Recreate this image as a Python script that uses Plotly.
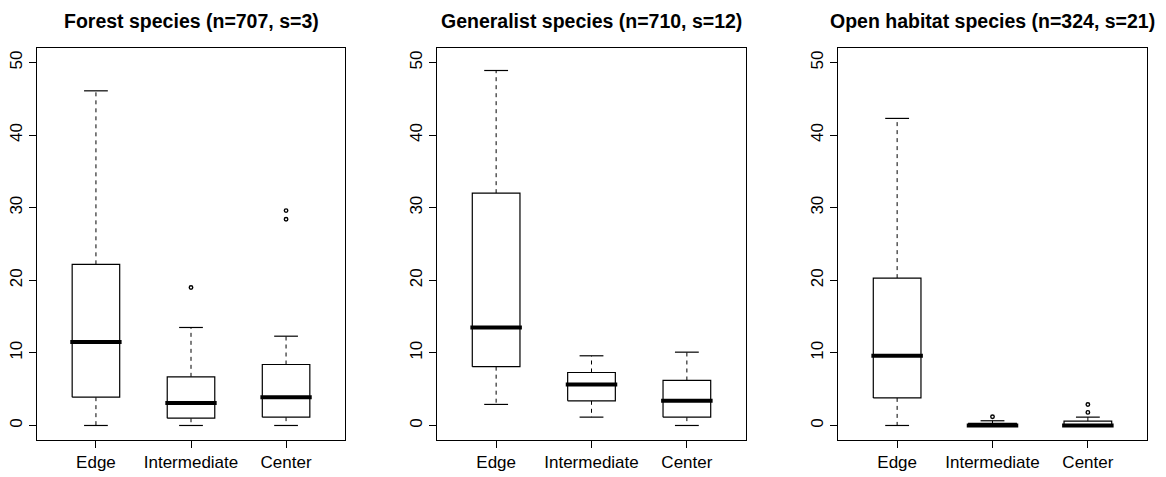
import plotly.graph_objects as go

# ---------------- data ----------------
categories = ["Edge", "Intermediate", "Center"]
panel_titles = [
    "Forest species (n=707, s=3)",
    "Generalist species (n=710, s=12)",
    "Open habitat species (n=324, s=21)",
]
y_ticks = [0, 10, 20, 30, 40, 50]

# per panel, per category: lower whisker, Q1, median, Q3, upper whisker
forest_low = [0.0, 0.0, 0.0]
forest_q1 = [3.9, 1.0, 1.15]
forest_med = [11.5, 3.1, 3.9]
forest_q3 = [22.2, 6.7, 8.4]
forest_high = [46.1, 13.5, 12.3]
forest_out = [[], [19.0], [28.4, 29.6]]

gen_low = [2.9, 1.15, 0.0]
gen_q1 = [8.1, 3.4, 1.15]
gen_med = [13.5, 5.65, 3.4]
gen_q3 = [32.0, 7.3, 6.2]
gen_high = [48.9, 9.6, 10.1]
gen_out = [[], [], []]

open_low = [0.0, 0.0, 0.0]
open_q1 = [3.8, 0.0, 0.0]
open_med = [9.6, 0.0, 0.0]
open_q3 = [20.3, 0.3, 0.6]
open_high = [42.3, 0.65, 1.15]
open_out = [[], [1.2], [1.8, 2.9]]

panels = [
    (forest_low, forest_q1, forest_med, forest_q3, forest_high, forest_out),
    (gen_low, gen_q1, gen_med, gen_q3, gen_high, gen_out),
    (open_low, open_q1, open_med, open_q3, open_high, open_out),
]

# ---------------- layout helpers ----------------
W, H = 1166, 477
x_px = [(37, 345), (437, 746), (838, 1147)]
y_px = (48, 440)
FONT = "Liberation Sans, Arial, sans-serif"
BOX_HALF = 0.25
CAP_HALF = 0.125
TICK_FONT = 17

fig = go.Figure()
layout = dict(
    width=W, height=H,
    margin=dict(l=0, r=0, t=0, b=0),
    paper_bgcolor="white", plot_bgcolor="white",
    showlegend=False,
    font=dict(family=FONT, color="black", size=16),
    annotations=[],
)

for p, (low, q1, med, q3, high, outs) in enumerate(panels):
    xa = "x" if p == 0 else f"x{p+1}"
    ya = "y" if p == 0 else f"y{p+1}"
    for i, cat in enumerate(categories):
        c = i + 1
        # whiskers (dashed)
        fig.add_trace(go.Scatter(
            x=[c, c, None, c, c],
            y=[q3[i], high[i], None, q1[i], low[i]],
            mode="lines", line=dict(color="black", width=1, dash="4px,4px"),
            xaxis=xa, yaxis=ya, hoverinfo="skip"))
        # caps
        fig.add_trace(go.Scatter(
            x=[c - CAP_HALF, c + CAP_HALF, None, c - CAP_HALF, c + CAP_HALF],
            y=[high[i], high[i], None, low[i], low[i]],
            mode="lines", line=dict(color="black", width=1.2),
            xaxis=xa, yaxis=ya, hoverinfo="skip"))
        # box
        fig.add_trace(go.Scatter(
            x=[c - BOX_HALF, c + BOX_HALF, c + BOX_HALF, c - BOX_HALF, c - BOX_HALF],
            y=[q1[i], q1[i], q3[i], q3[i], q1[i]],
            mode="lines", line=dict(color="black", width=1.2),
            fill="toself", fillcolor="white",
            xaxis=xa, yaxis=ya, hoverinfo="skip"))
        # median
        fig.add_trace(go.Scatter(
            x=[c - BOX_HALF - 0.02, c + BOX_HALF + 0.02],
            y=[med[i], med[i]],
            mode="lines", line=dict(color="black", width=4),
            xaxis=xa, yaxis=ya, hoverinfo="skip"))
        # outliers
        if outs[i]:
            fig.add_trace(go.Scatter(
                x=[c] * len(outs[i]), y=outs[i],
                mode="markers",
                marker=dict(symbol="circle-open", size=3.5, color="black",
                            line=dict(width=1.4, color="black")),
                xaxis=xa, yaxis=ya, hoverinfo="skip"))

    xd = [x_px[p][0] / W, x_px[p][1] / W]
    yd = [1 - y_px[1] / H, 1 - y_px[0] / H]
    xkey = "xaxis" if p == 0 else f"xaxis{p+1}"
    ykey = "yaxis" if p == 0 else f"yaxis{p+1}"
    layout[xkey] = dict(
        domain=xd, anchor=ya, range=[0.38, 3.62],
        tickvals=[1, 2, 3], ticktext=categories,
        ticks="outside", ticklen=7, tickwidth=1, tickcolor="black",
        showline=True, mirror=True, linecolor="black", linewidth=1,
        showgrid=False, zeroline=False,
        tickfont=dict(family=FONT, size=TICK_FONT, color="black"),
    )
    layout[ykey] = dict(
        domain=yd, anchor=xa, range=[-2, 52],
        tickvals=y_ticks, ticktext=[str(v) for v in y_ticks],
        tickangle=-90,
        ticks="outside", ticklen=7, tickwidth=1, tickcolor="black",
        showline=True, mirror=True, linecolor="black", linewidth=1,
        showgrid=False, zeroline=False,
        tickfont=dict(family=FONT, size=TICK_FONT, color="black"),
    )
    layout["annotations"].append(dict(
        text=f"<b>{panel_titles[p]}</b>",
        xref="paper", yref="paper",
        x=(xd[0] + xd[1]) / 2, y=1 - 21 / H,
        xanchor="center", yanchor="middle", showarrow=False,
        font=dict(family=FONT, size=19.5, color="black"),
    ))

fig.update_layout(**layout)
fig.write_html(
    "out.html",
    config={"displayModeBar": False},
    post_script="document.body.style.margin='0';document.body.style.overflow='hidden';",
)
